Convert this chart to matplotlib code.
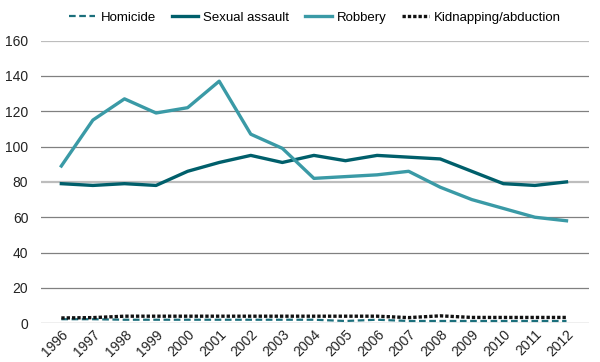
import matplotlib
matplotlib.use("Agg")
import matplotlib.pyplot as plt

plt.rcParams['font.family'] = ['Liberation Sans Narrow', 'Liberation Sans', 'DejaVu Sans']

years = list(range(1996, 2013))
homicide = [2.3, 2.3, 2.0, 2.0, 2.0, 2.0, 2.0, 2.0, 2.0, 1.3, 2.0, 1.3, 1.3, 1.3, 1.3, 1.3, 1.3]
sexual_assault = [79, 78, 79, 78, 86, 91, 95, 91, 95, 92, 95, 94, 93, 86, 79, 78, 80]
robbery = [89, 115, 127, 119, 122, 137, 107, 99, 82, 83, 84, 86, 77, 70, 65, 60, 58]
kidnapping = [3.0, 3.2, 4.0, 4.0, 4.0, 4.0, 4.0, 4.0, 4.0, 4.0, 4.0, 3.2, 4.2, 3.3, 3.3, 3.3, 3.3]
yticks = [0, 20, 40, 60, 80, 100, 120, 140, 160]

fig = plt.figure(figsize=(6, 3.62), dpi=100)
ax = fig.add_axes([0.068, 0.107, 0.913, 0.781])

# gridlines (80 and 160 drawn lighter, as in the original)
for v in yticks:
    if v in (80, 160):
        ax.axhline(v, color='#bdbdbd', lw=1.6, zorder=0)
    else:
        ax.axhline(v, color='#808080', lw=0.9, zorder=0)

ax.plot(years, homicide, color='#1b6f7c', lw=1.6, ls=(0, (3, 1.6)), label='Homicide')
ax.plot(years, sexual_assault, color='#005f6b', lw=2.4, label='Sexual assault')
ax.plot(years, robbery, color='#3a9aa6', lw=2.4, label='Robbery')
ax.plot(years, kidnapping, color='#111111', lw=2.4, ls=(0, (1, 0.6)), label='Kidnapping/abduction')

ax.set_xlim(1995.35, 2012.7)
ax.set_ylim(0, 160)
ax.set_yticks(yticks)
ax.set_xticks(years)
ax.set_xticklabels([str(y) for y in years], rotation=45, ha='right', rotation_mode='anchor')
ax.tick_params(length=0, labelsize=10, colors='#222222')
ax.tick_params(axis='x', pad=3)
ax.tick_params(axis='y', pad=9)
for s in ax.spines.values():
    s.set_visible(False)

fig.legend(loc='upper center', bbox_to_anchor=(0.525, 1.0), ncol=4, frameon=False,
           fontsize=9.5, handlelength=2.0, columnspacing=1.2, handletextpad=0.4)

fig.savefig('out.png', dpi=100)
